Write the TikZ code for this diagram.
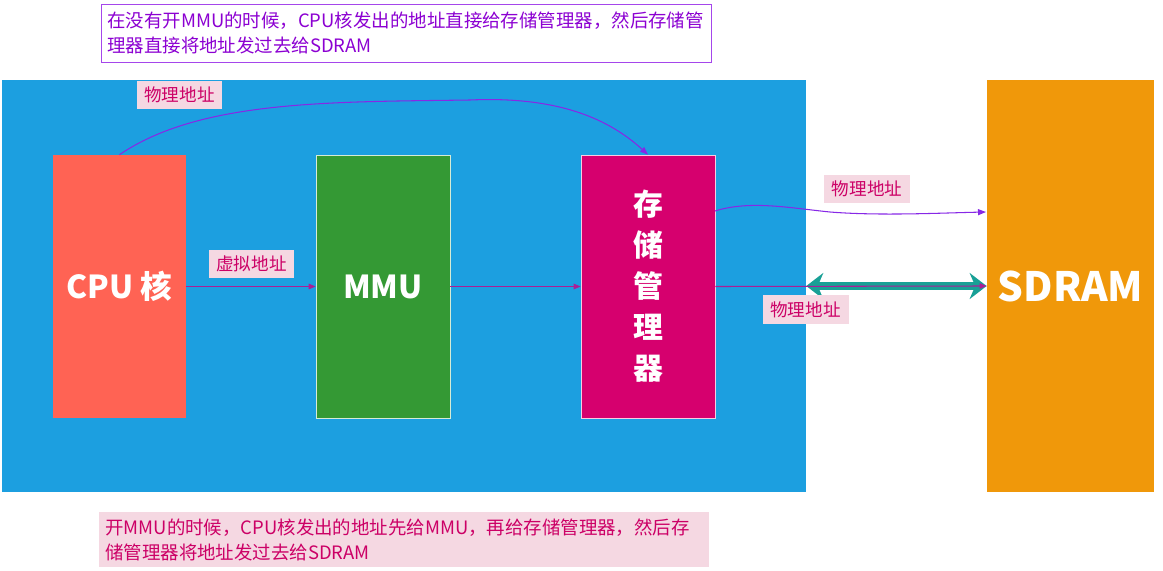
\documentclass[tikz,border=0pt]{standalone}
\usepackage{fontspec}
\setmainfont{Noto Sans CJK SC}
\usetikzlibrary{arrows.meta}
\definecolor{socblue}{RGB}{28,159,224}
\definecolor{cpured}{RGB}{255,99,84}
\definecolor{mmugreen}{RGB}{52,153,52}
\definecolor{memmag}{RGB}{214,0,110}
\definecolor{sdramorange}{RGB}{240,152,10}
\definecolor{tagpink}{RGB}{245,216,226}
\definecolor{tagtext}{RGB}{204,0,102}
\definecolor{notepurple}{RGB}{140,0,210}
\definecolor{noteborder}{RGB}{165,70,235}
\definecolor{wirepurple}{RGB}{135,40,230}
\definecolor{wiremag}{RGB}{170,30,150}
\definecolor{busteal}{RGB}{24,160,150}

\begin{document}
\begin{tikzpicture}
[x=0.02cm, y=-0.02cm,
unit/.style={inner sep=0pt, minimum height=5.26cm, text=white, font=\bfseries},
cpubox/.style={unit, fill=cpured, minimum width=2.66cm, font=\fontsize{18}{20}\bfseries},
mmubox/.style={unit, fill=mmugreen, draw=white!80!mmugreen, thin, minimum width=2.68cm, font=\fontsize{18}{20}\bfseries},
membox/.style={unit, fill=memmag, draw=white!80!memmag, thin, minimum width=2.68cm, align=center, font=\fontsize{17}{23.3}\bfseries},
tag/.style={fill=tagpink, text=tagtext, inner sep=0pt, minimum width=1.72cm, minimum height=0.58cm, font=\fontsize{10}{12}\selectfont},
wire/.style={wiremag, semithick, -{Triangle[length=0.14cm, width=0.11cm]}},
link/.style={wirepurple, semithick, -{Triangle[length=0.16cm, width=0.12cm]}}]
\useasboundingbox (0,0) rectangle (1163,571);

% chip and memory
\draw (404,286) node[fill=socblue, minimum width=16.08cm, minimum height=8.24cm, inner sep=0pt] (soc) {};
\draw (1070.5,286) node[fill=sdramorange, minimum width=3.34cm, minimum height=8.24cm, inner sep=0pt, text=white, font=\fontsize{23}{25}\bfseries] (sdram) {SDRAM};

\draw (119.5,286.5) node[cpubox] (cpu) {CPU 核};
\draw (383,286.5)   node[mmubox] (mmu) {MMU};
\draw (648,286.5)   node[membox] (mem) {存\\储\\管\\理\\器};

% notes
\draw (406,33) node[draw=noteborder, fill=white, text=notepurple, minimum width=12.2cm, minimum height=1.16cm, inner sep=0pt,
  text width=11.95cm, align=left, font=\fontsize{10.5}{14.2}\selectfont] (notetop)
  {在没有开MMU的时候，CPU核发出的地址直接给存储管理器，然后存储管\\理器直接将地址发过去给SDRAM};
\draw (404,539.5) node[fill=tagpink, text=tagtext, minimum width=12.2cm, minimum height=1.1cm, inner sep=0pt,
  text width=11.95cm, align=left, font=\fontsize{10.5}{14.2}\selectfont] (notebot)
  {开MMU的时候，CPU核发出的地址先给MMU，再给存储管理器，然后存\\储管理器将地址发过去给SDRAM};

% address paths
\draw [wire] (cpu.east) -- (mmu.west);
\draw [wire] (mmu.east) -- (mem.west);
\draw [busteal, line width=0.16cm, {Stealth[length=0.34cm, width=0.52cm]}-{Stealth[length=0.34cm, width=0.52cm]}]
  (soc.east) -- (sdram.west);
\draw [wire] (mem.east) -- (sdram.west);
\draw [link] (cpu.north) .. controls (200,100) and (330,102) .. (470,100)
  .. controls (560,96) and (610,120) .. (mem.north);
\coordinate (memout) at (715,211);
\coordinate (sdramin) at (986,212);
\draw [link] (memout) .. controls (750,200) and (790,208) .. (830,212)
  .. controls (880,216) and (940,213) .. (sdramin);

\draw (251.5,264) node[tag] (virt) {虚拟地址};
\draw (179.5,95)  node[tag] (phys1) {物理地址};
\draw (867,189)   node[tag] (phys2) {物理地址};
\draw (805.5,309.5) node[tag] (phys3) {物理地址};
\end{tikzpicture}
\end{document}
